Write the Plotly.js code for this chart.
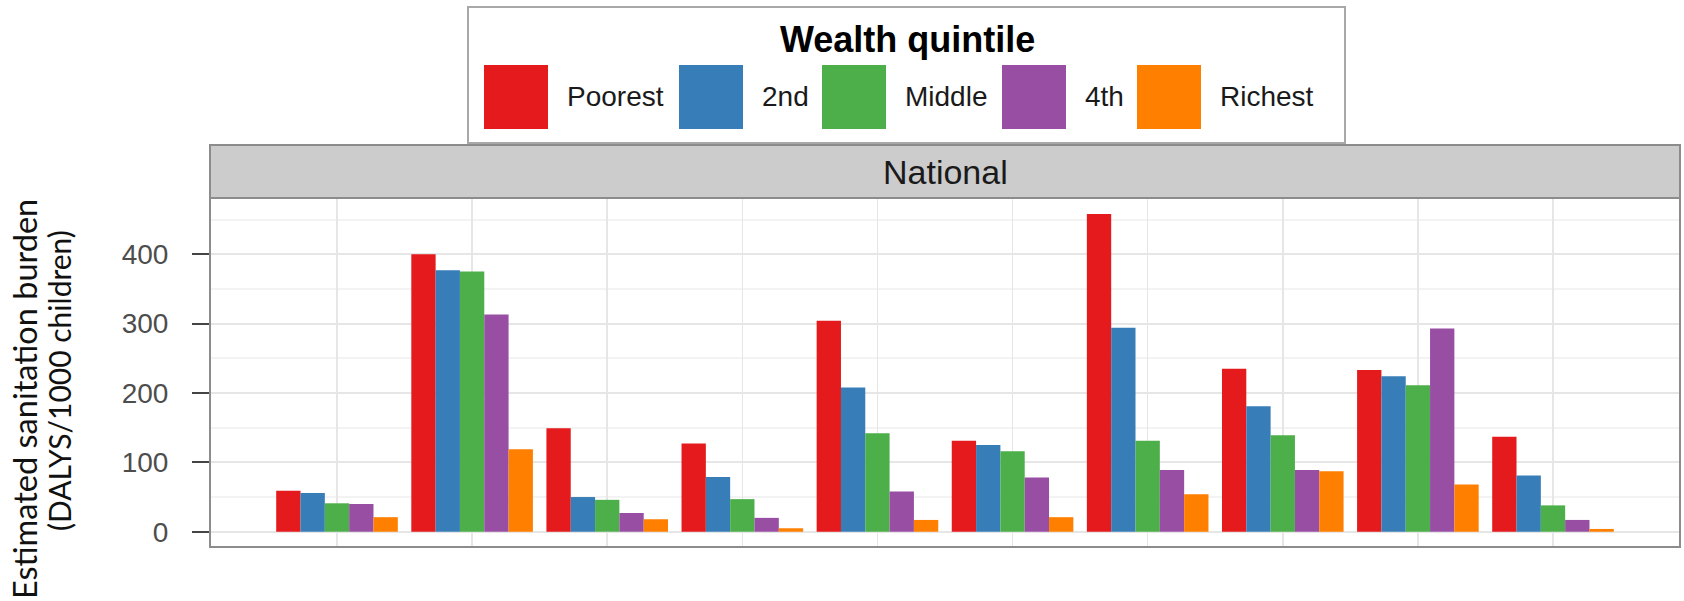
<!DOCTYPE html>
<html>
<head>
<meta charset="utf-8">
<script src="https://cdn.plot.ly/plotly-3.0.1.min.js"></script>
<style>
  html, body { margin: 0; padding: 0; background: #ffffff; }
  #chart { width: 1684px; height: 601px; }
</style>
</head>
<body>
<div id="chart"></div>
<script>
// Groups along the x axis (no labels are printed for them)
const groups = [1, 2, 3, 4, 5, 6, 7, 8, 9, 10];

// Wealth quintiles and their colours
const quintiles = ['Poorest', '2nd', 'Middle', '4th', 'Richest'];
const quintileColors = ['#E41A1C', '#377EB8', '#4DAF4A', '#984EA3', '#FF7F00'];

// Estimated sanitation burden (DALYs per 1000 children), one array per quintile
const poorest = [59, 400, 149, 127, 304, 131, 458, 235, 233, 137];
const second  = [56, 377, 50, 79, 208, 125, 294, 181, 224, 81];
const middle  = [41, 375, 46, 47, 142, 116, 131, 139, 211, 38];
const fourth  = [40, 313, 27, 20, 58, 78, 89, 89, 293, 17];
const richest = [21, 119, 18, 5, 17, 21, 54, 87, 68, 4];

const seriesValues = [poorest, second, middle, fourth, richest];

// Y axis ticks
const yTickValues = [0, 100, 200, 300, 400];
const yTickLabels = ['0', '100', '200', '300', '400'];

const facetLabel = 'National';
const legendTitle = 'Wealth quintile';
const yTitleLines = ['Estimated sanitation burden', '(DALYS/1000 children)'];

// ---- page geometry ----
const W = 1684, H = 601;
const M = { l: 210, r: 4, t: 198, b: 54 };
const PW = W - M.l - M.r;
const PH = H - M.t - M.b;
const px2x = p => (p - M.l) / PW;          // pixel column -> paper x
const px2y = p => (H - M.b - p) / PH;      // pixel row    -> paper y

const baseFont = 'Liberation Sans, Arial, Helvetica, sans-serif';
const titleFont = 'Lato, Open Sans, sans-serif';

const traces = quintiles.map((name, i) => ({
  type: 'bar',
  name: name,
  x: groups,
  y: seriesValues[i],
  marker: { color: quintileColors[i], line: { width: 0 } },
  showlegend: false,
  hoverinfo: 'x+y+name'
}));

const shapes = [];
const annotations = [];

// Facet strip above the panel
shapes.push({
  type: 'rect', xref: 'paper', yref: 'paper', layer: 'above',
  x0: 0, x1: 1, y0: 1, y1: px2y(145),
  fillcolor: '#cccccc', line: { color: '#8c8c8c', width: 2 }
});
annotations.push({
  xref: 'paper', yref: 'paper', x: 0.5, y: px2y(171.5),
  xanchor: 'center', yanchor: 'middle', showarrow: false,
  text: facetLabel, font: { family: baseFont, size: 34, color: '#1a1a1a' }
});

// Panel border
shapes.push({
  type: 'rect', xref: 'paper', yref: 'paper', layer: 'above',
  x0: 0, x1: 1, y0: 0, y1: 1,
  fillcolor: 'rgba(0,0,0,0)', line: { color: '#8c8c8c', width: 2 }
});

// Legend box with title, colour keys and labels
shapes.push({
  type: 'rect', xref: 'paper', yref: 'paper', layer: 'above',
  x0: px2x(468), x1: px2x(1345), y0: px2y(143), y1: px2y(7),
  fillcolor: '#ffffff', line: { color: '#a8a8a8', width: 2 }
});
annotations.push({
  xref: 'paper', yref: 'paper', x: px2x(907), y: px2y(39),
  xanchor: 'center', yanchor: 'middle', showarrow: false,
  text: '<b>' + legendTitle + '</b>',
  font: { family: baseFont, size: 36, color: '#000000' }
});
const keyLeft = [484, 679, 822, 1002, 1137];
const keySize = 64, keyTop = 65, keyLabelGap = 17;
quintiles.forEach((name, i) => {
  shapes.push({
    type: 'rect', xref: 'paper', yref: 'paper', layer: 'above',
    x0: px2x(keyLeft[i]), x1: px2x(keyLeft[i] + keySize),
    y0: px2y(keyTop + keySize), y1: px2y(keyTop),
    fillcolor: quintileColors[i], line: { width: 0 }
  });
  annotations.push({
    xref: 'paper', yref: 'paper',
    x: px2x(keyLeft[i] + keySize + keyLabelGap), y: px2y(keyTop + keySize / 2),
    xanchor: 'left', yanchor: 'middle', showarrow: false,
    text: name, font: { family: baseFont, size: 28, color: '#1a1a1a' }
  });
});

// Two-line y axis title
annotations.push({
  xref: 'paper', yref: 'paper', x: px2x(24), y: px2y(399),
  xanchor: 'center', yanchor: 'middle', showarrow: false, textangle: -90,
  text: yTitleLines[0], font: { family: titleFont, size: 32.5, color: '#111111' }
});
annotations.push({
  xref: 'paper', yref: 'paper', x: px2x(59), y: px2y(381),
  xanchor: 'center', yanchor: 'middle', showarrow: false, textangle: -90,
  text: yTitleLines[1], font: { family: titleFont, size: 30, color: '#111111' }
});

const layout = {
  width: W, height: H,
  margin: M,
  paper_bgcolor: '#ffffff',
  plot_bgcolor: '#ffffff',
  barmode: 'group',
  bargap: 0.1,
  bargroupgap: 0,
  showlegend: false,
  xaxis: {
    type: 'linear',
    range: [0.06, 10.94],
    tickvals: groups,
    showticklabels: false,
    ticks: '',
    showgrid: true,
    gridcolor: '#e6e6e6',
    gridwidth: 1.5,
    zeroline: false,
    showline: false,
    fixedrange: true
  },
  yaxis: {
    range: [-22, 481],
    tickvals: yTickValues,
    ticktext: yTickLabels,
    ticks: 'outside',
    ticklen: 17,
    tickwidth: 2,
    tickcolor: '#444444',
    ticklabelstandoff: 18,
    tickfont: { family: baseFont, size: 28, color: '#4d4d4d' },
    showgrid: true,
    gridcolor: '#e6e6e6',
    gridwidth: 2,
    minor: { dtick: 50, tick0: 0, showgrid: true, gridcolor: '#f3f3f3', gridwidth: 2, ticks: '' },
    zeroline: false,
    showline: false,
    fixedrange: true
  },
  shapes: shapes,
  annotations: annotations
};

Plotly.newPlot('chart', traces, layout, { displayModeBar: false, staticPlot: true });
</script>
</body>
</html>
